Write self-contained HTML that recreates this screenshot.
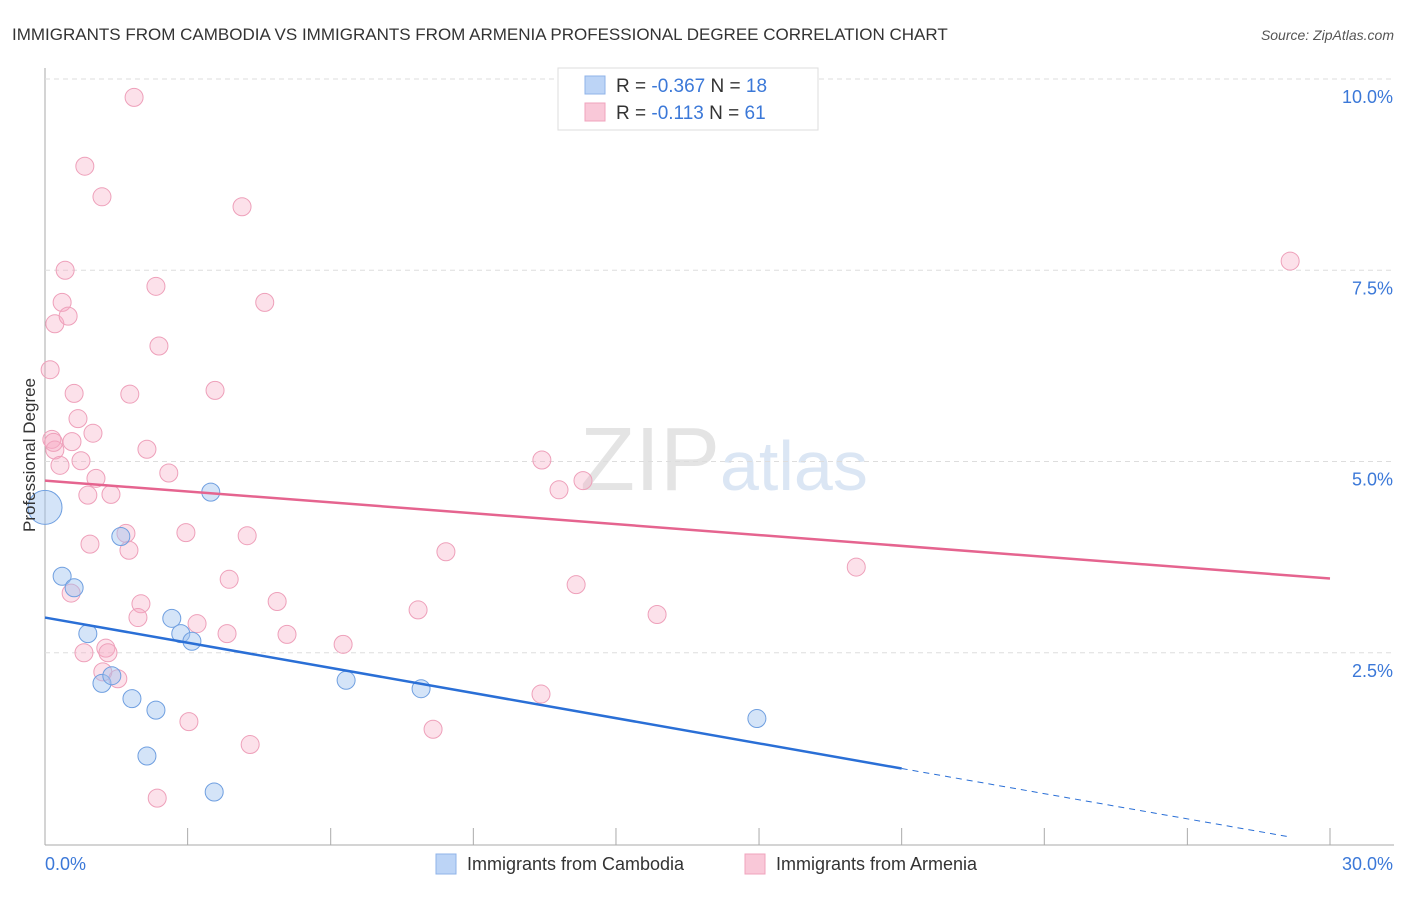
<!DOCTYPE html>
<html><head><meta charset="utf-8"><style>
body{margin:0;background:#fff;font-family:"Liberation Sans",sans-serif;}
svg text{font-family:"Liberation Sans",sans-serif;}
</style></head><body>
<svg id="chart" width="1406" height="892">
<text x="12" y="40" font-size="17" fill="#333">IMMIGRANTS FROM CAMBODIA VS IMMIGRANTS FROM ARMENIA PROFESSIONAL DEGREE CORRELATION CHART</text>
<text x="1394" y="40" font-size="14" fill="#555" font-style="italic" text-anchor="end">Source: ZipAtlas.com</text>
<text x="720" y="490" font-size="90" fill="#e4e4e4" text-anchor="end" font-family="Liberation Serif">ZIP</text>
<text x="720" y="490" font-size="70" fill="#dbe6f4">atlas</text>
<g id="grid"></g><g id="pts"></g><g id="lines"></g>
<text x="35" y="455" font-size="17" fill="#333" transform="rotate(-90 35 455)" text-anchor="middle">Professional Degree</text>
<g>
<rect x="558" y="68" width="260" height="62" fill="#fff" stroke="#ddd"/>
<rect x="585" y="76" width="20" height="18" fill="#bcd4f6" stroke="#8fb3e8"/>
<rect x="585" y="103" width="20" height="18" fill="#f9c8d8" stroke="#f0a3bd"/>
<text x="616" y="92" font-size="19" fill="#333">R = <tspan fill="#3b78d8">-0.367</tspan>    N = <tspan fill="#3b78d8">18</tspan></text>
<text x="616" y="119" font-size="19" fill="#333">R =  <tspan fill="#3b78d8">-0.113</tspan>    N = <tspan fill="#3b78d8">61</tspan></text>
</g>
<g>
<rect x="436" y="854" width="20" height="20" fill="#bcd4f6" stroke="#8fb3e8"/>
<text x="467" y="870" font-size="18" fill="#333">Immigrants from Cambodia</text>
<rect x="745" y="854" width="20" height="20" fill="#f9c8d8" stroke="#f0a3bd"/>
<text x="776" y="870" font-size="18" fill="#333">Immigrants from Armenia</text>
</g>
</svg>
<script>
const xTicks=[0,3.33,6.67,10,13.33,16.67,20,23.33,26.67,30];
const yTicks=[2.5,5,7.5,10];
const yTickLabels=["2.5%","5.0%","7.5%","10.0%"];
const xTickLabels=["0.0%","30.0%"];
const cambX=[0,0.4,0.68,1,1.33,1.56,1.77,2.03,2.38,2.59,2.96,3.17,3.43,3.87,3.95,7.03,8.78,16.62];
const cambY=[4.40,3.5,3.35,2.75,2.1,2.2,4.02,1.9,1.15,1.75,2.95,2.75,2.65,4.6,0.68,2.14,2.03,1.64];
const armX=[2.08,0.93,1.33,4.6,29.07,0.47,2.59,0.4,5.13,0.23,0.54,2.66,0.12,3.97,0.68,1.98,0.77,1.12,0.16,0.63,0.23,2.38,0.35,0.84,2.89,1.19,11.6,12.56,12.0,1.0,1.54,1.89,3.29,4.72,1.05,1.96,9.36,18.94,4.3,12.4,0.61,2.24,5.42,8.71,2.17,14.29,3.55,4.25,5.65,6.96,1.42,0.91,1.47,1.7,1.35,11.58,3.36,9.06,4.79,2.62,0.2];
const armY=[9.76,8.86,8.46,8.33,7.62,7.5,7.29,7.08,7.08,6.8,6.9,6.51,6.2,5.93,5.89,5.88,5.56,5.37,5.29,5.26,5.15,5.16,4.95,5.01,4.85,4.78,5.02,4.75,4.63,4.56,4.57,4.06,4.07,4.03,3.92,3.84,3.82,3.62,3.46,3.39,3.28,3.14,3.17,3.06,2.96,3.0,2.88,2.75,2.74,2.61,2.56,2.5,2.5,2.16,2.25,1.96,1.6,1.5,1.3,0.6,5.25];
const cambTrend=[2.96,0.0]; // y at x=0, y at x=30 (extrapolated)
const armTrend=[4.75,3.47];
const X=v=>45+v/30*1285, Y=v=>844-v*76.5;
const NS="http://www.w3.org/2000/svg";
function mk(tag,attrs,parent,text){const e=document.createElementNS(NS,tag);for(const k in attrs)e.setAttribute(k,attrs[k]);if(text!==undefined)e.textContent=text;document.getElementById(parent)?document.getElementById(parent).appendChild(e):parent.appendChild(e);return e;}
const grid=document.getElementById('grid');
let ax=mk('line',{x1:45,y1:68,x2:45,y2:845,stroke:'#aaa'},grid);


let bx=mk('line',{x1:45,y1:845,x2:1394,y2:845,stroke:'#aaa'},grid);


yTicks.forEach((t,i)=>{
 const g=mk('line',{x1:45,y1:Y(t),x2:1394,y2:Y(t),stroke:'#ddd','stroke-dasharray':'5,4'},grid);
 
 
 const l=mk('text',{x:1393,y:Y(t)+24,'font-size':18,fill:'#3b78d8','text-anchor':'end'},grid,yTickLabels[i]);
 
 
});
xTicks.forEach(t=>{
 const k=mk('line',{x1:X(t),y1:828,x2:X(t),y2:845,stroke:'#aaa'},grid);
 
 
});
const xl0=mk('text',{x:45,y:870,'font-size':18,fill:'#3b78d8'},grid,xTickLabels[0]);


const xl1=mk('text',{x:1393,y:870,'font-size':18,fill:'#3b78d8','text-anchor':'end'},grid,xTickLabels[1]);


const pts=document.getElementById('pts');
armX.forEach((v,i)=>{
 const c=mk('circle',{cx:X(v),cy:Y(armY[i]),r:9,fill:'rgba(246,170,195,0.35)',stroke:'#eea0ba','stroke-width':1},pts);
 
 
});
cambX.forEach((v,i)=>{
 const c=mk('circle',{cx:X(v),cy:Y(cambY[i]),r:i==0?17:9,fill:'rgba(160,195,240,0.45)',stroke:'#6f9fe0','stroke-width':1},pts);
 
 
});
const lines=document.getElementById('lines');
const cy=x=>cambTrend[0]+(cambTrend[1]-cambTrend[0])*x/30;
const l1=mk('line',{x1:X(0),y1:Y(cy(0)),x2:X(20),y2:Y(cy(20)),stroke:'#2a6fd6','stroke-width':2.5},lines);


const l2=mk('line',{x1:X(20),y1:Y(cy(20)),x2:X(29.1),y2:Y(cy(29.1)),stroke:'#2a6fd6','stroke-width':1,'stroke-dasharray':'6,5'},lines);


const l3=mk('line',{x1:X(0),y1:Y(armTrend[0]),x2:X(30),y2:Y(armTrend[1]),stroke:'#e5648f','stroke-width':2.5},lines);


</script>
</body></html>
